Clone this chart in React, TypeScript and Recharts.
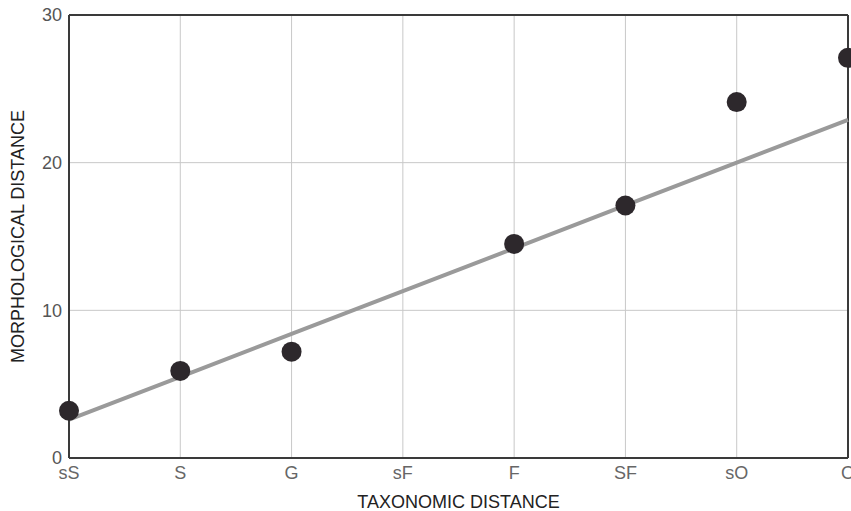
import { LineChart, Line, XAxis, YAxis, CartesianGrid, ReferenceLine, Label } from 'recharts'

const categories = ['sS', 'S', 'G', 'sF', 'F', 'SF', 'sO', 'O']
const morphDistance = [3.2, 5.9, 7.2, null, 14.5, 17.1, 24.1, 27.1]
const trendLine = [2.6, 5.5, 8.4, 11.3, 14.2, 17.1, 20.0, 22.9]
const yTicks = [0, 10, 20, 30]

const data = categories.map((c, i) => ({ name: c, morph: morphDistance[i], trend: trendLine[i] }))

const font = 'Liberation Sans, Arial, sans-serif'
const ink = '#3a3a3a'

export default function App() {
  return (
    <div style={{ position: 'absolute', left: 0, top: 0, fontFamily: font, background: '#fff' }}>
      <LineChart width={851} height={511} data={data} margin={{ top: 15, right: 3, bottom: 0, left: 0 }}>
        <CartesianGrid stroke="#c8c8c8" strokeWidth={1} />
        <XAxis
          dataKey="name"
          scale="point"
          padding={{ left: 0, right: 0 }}
          height={53}
          tickLine={false}
          tickSize={6}
          axisLine={{ stroke: ink, strokeWidth: 2 }}
          tick={{ fontSize: 18, fill: '#666', fontFamily: font }}
          interval={0}
        >
          <Label value="TAXONOMIC DISTANCE" position="insideBottom" offset={0} dy={-3} style={{ fontSize: 18, fill: '#222', fontFamily: font }} />
        </XAxis>
        <YAxis
          domain={[0, 30]}
          ticks={yTicks}
          width={69}
          tickLine={false}
          tickSize={5}
          axisLine={{ stroke: ink, strokeWidth: 2 }}
          tick={{ fontSize: 18, fill: '#555', fontFamily: font }}
        >
          <Label value="MORPHOLOGICAL DISTANCE" angle={-90} position="insideLeft" offset={18} style={{ fontSize: 18, fill: '#222', fontFamily: font, textAnchor: 'middle' }} />
        </YAxis>
        <ReferenceLine y={30} stroke={ink} strokeWidth={2} />
        <ReferenceLine x="O" stroke={ink} strokeWidth={2} />
        <Line dataKey="trend" stroke="#9a9a9a" strokeWidth={4} dot={false} isAnimationActive={false} />
        <Line dataKey="morph" stroke="none" dot={{ r: 10, fill: '#2d282c', stroke: 'none' }} isAnimationActive={false} />
      </LineChart>
    </div>
  )
}
